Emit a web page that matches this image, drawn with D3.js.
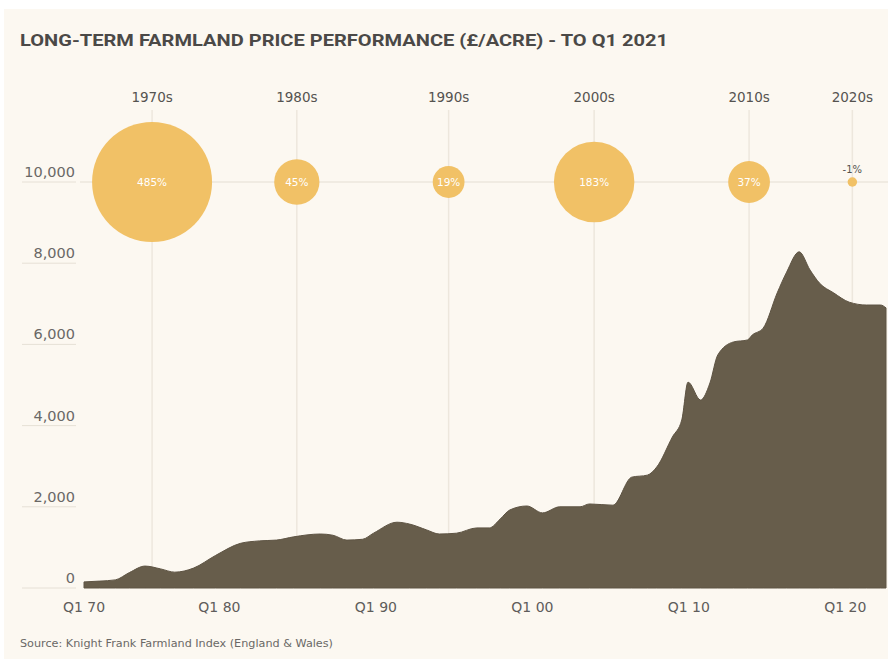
<!DOCTYPE html>
<html>
<head>
<meta charset="utf-8">
<script src="https://cdn.jsdelivr.net/npm/d3@7"></script>
<style>
  html, body { margin: 0; padding: 0; background: #ffffff; }
  svg { display: block; }
  text { font-family: "DejaVu Sans", "Noto Sans", sans-serif; }
  .title { font-family: Roboto, "Noto Sans", sans-serif; }
</style>
</head>
<body>
<svg id="chart" width="888" height="659"></svg>
<script>
// Farmland price, £ per acre (time in decimal years)
const years = [
  1970.0, 1971.0, 1972.0, 1972.9, 1973.9, 1974.9, 1975.8, 1977.0, 1978.4, 1980.0,
  1981.2, 1982.3, 1983.4, 1985.1, 1985.9, 1986.8, 1987.8, 1988.5, 1990.0, 1990.8,
  1991.9, 1992.7, 1993.8, 1995.1, 1995.9, 1996.6, 1997.2, 1998.3, 1999.3, 2000.4,
  2001.7, 2002.3, 2003.8, 2005.0, 2006.0, 2006.6, 2007.6, 2008.2, 2008.6, 2009.4,
  2010.0, 2010.5, 2011.5, 2012.4, 2012.7, 2013.4, 2014.3, 2014.9, 2015.7, 2016.4,
  2017.0, 2017.9, 2018.9, 2020.0, 2020.9, 2021.25
];
const pricePerAcre = [
  150, 170, 200, 380, 540, 470, 390, 490, 800, 1100,
  1160, 1180, 1260, 1330, 1300, 1180, 1200, 1350, 1620, 1575,
  1430, 1330, 1350, 1480, 1480, 1700, 1920, 2020, 1850, 2000,
  2000, 2070, 2040, 2730, 2780, 2980, 3720, 4140, 5070, 4630,
  5050, 5740, 6060, 6110, 6230, 6400, 7270, 7780, 8280, 7830,
  7510, 7270, 7040, 6970, 6970, 6900
];

// Change in price over each decade (%)
const decades = ["1970s", "1980s", "1990s", "2000s", "2010s", "2020s"];
const decadeChange = [485, 45, 19, 183, 37, -1];
const decadeMarkYear = [1974.35, 1983.6, 1993.3, 2002.6, 2012.5, 2019.1];

// Axis ticks
const yTicks = [0, 2000, 4000, 6000, 8000, 10000];
const xTickYears = [1970, 1980, 1990, 2000, 2010, 2020];
const xTickLabels = ["Q1 70", "Q1 80", "Q1 90", "Q1 00", "Q1 10", "Q1 20"];

const svg = d3.select("#chart");

// Cream panel
svg.append("rect")
  .attr("x", 4).attr("y", 9)
  .attr("width", 884).attr("height", 650)
  .attr("fill", "#fcf8f1");

const x = d3.scaleLinear().domain([1970, 2021.25]).range([84, 886]);
const y = d3.scaleLinear().domain([0, 10000]).range([588, 182]);
const r = d3.scalePow().exponent(0.41).domain([0, 485]).range([0, 60]);

// Title
svg.append("text")
  .attr("class", "title")
  .attr("x", 20).attr("y", 46)
  .attr("font-size", 17).attr("font-weight", 700)
  .attr("fill", "#4b4947")
  .attr("textLength", 648).attr("lengthAdjust", "spacingAndGlyphs")
  .text("LONG-TERM FARMLAND PRICE PERFORMANCE (£/ACRE) - TO Q1 2021");

// Guide lines: top row through the bubbles, verticals at decade marks
svg.append("line")
  .attr("x1", 80).attr("x2", 888)
  .attr("y1", y(10000)).attr("y2", y(10000))
  .attr("stroke", "#ede7dd").attr("stroke-width", 1.5);

svg.append("g").selectAll("line")
  .data(decadeMarkYear)
  .join("line")
  .attr("x1", d => x(d)).attr("x2", d => x(d))
  .attr("y1", 110).attr("y2", y(0))
  .attr("stroke", "#ede7dd").attr("stroke-width", 1.5);

// Y axis: right-aligned labels sitting on short rules
const yAxis = svg.append("g");
yAxis.selectAll("line")
  .data(yTicks)
  .join("line")
  .attr("x1", 22).attr("x2", 76)
  .attr("y1", d => y(d)).attr("y2", d => y(d))
  .attr("stroke", "#e6e0d6").attr("stroke-width", 1);
yAxis.selectAll("text")
  .data(yTicks)
  .join("text")
  .attr("x", 75).attr("y", d => y(d) - 5)
  .attr("text-anchor", "end")
  .attr("font-size", 14.5)
  .attr("fill", "#6a6866")
  .text(d => d3.format(",")(d));

// Price area
const area = d3.area()
  .x((d, i) => x(years[i]))
  .y0(y(0))
  .y1(d => y(d))
  .curve(d3.curveMonotoneX);

svg.append("path")
  .datum(pricePerAcre)
  .attr("d", area)
  .attr("fill", "#675d4b")
  .attr("stroke", "#5e5444")
  .attr("stroke-width", 1);

// X axis labels end at their tick
svg.append("g").selectAll("text")
  .data(xTickYears)
  .join("text")
  .attr("x", d => x(d))
  .attr("y", 612)
  .attr("text-anchor", (d, i) => i === 0 ? "middle" : "end")
  .attr("font-size", 14)
  .attr("fill", "#5f5d5b")
  .text((d, i) => xTickLabels[i]);

// Decade labels
svg.append("g").selectAll("text")
  .data(decades)
  .join("text")
  .attr("x", (d, i) => x(decadeMarkYear[i]))
  .attr("y", 102)
  .attr("text-anchor", "middle")
  .attr("font-size", 13.5)
  .attr("fill", "#555350")
  .text(d => d);

// Decade change bubbles
const bubbles = svg.append("g").selectAll("g")
  .data(decadeChange)
  .join("g")
  .attr("transform", (d, i) => `translate(${x(decadeMarkYear[i])},${y(10000)})`);

bubbles.append("circle")
  .attr("r", d => r(Math.abs(d)))
  .attr("fill", "#f1c166");

bubbles.append("text")
  .attr("y", d => r(Math.abs(d)) > 10 ? 4 : -9)
  .attr("text-anchor", "middle")
  .attr("font-size", d => r(Math.abs(d)) > 10 ? 10.5 : 10)
  .attr("fill", d => r(Math.abs(d)) > 10 ? "#ffffff" : "#555350")
  .text(d => d + "%");

// Source
svg.append("text")
  .attr("x", 20).attr("y", 647)
  .attr("font-size", 11)
  .attr("fill", "#6a6866")
  .attr("textLength", 313).attr("lengthAdjust", "spacingAndGlyphs")
  .text("Source: Knight Frank Farmland Index (England & Wales)");
</script>
</body>
</html>
